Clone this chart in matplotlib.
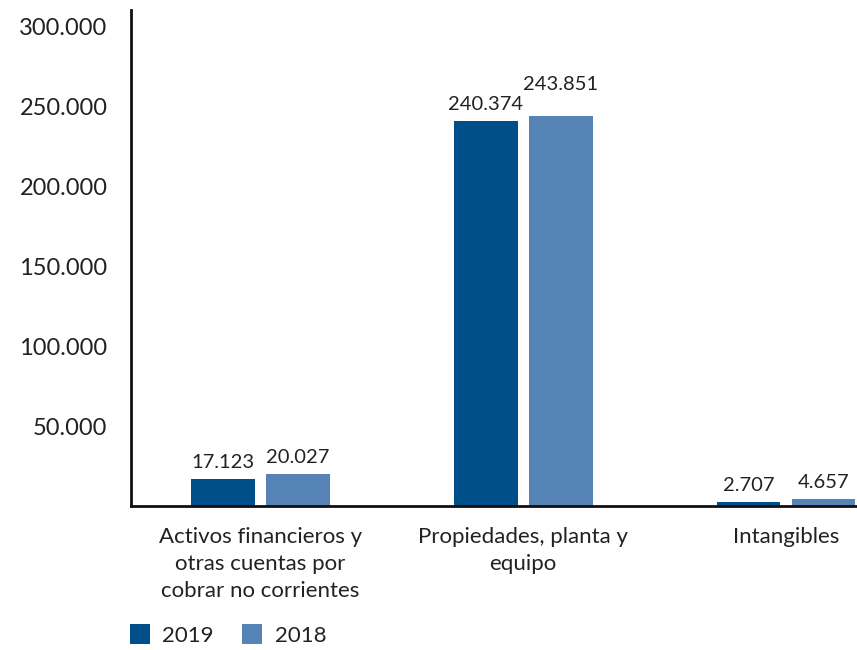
import matplotlib.pyplot as plt
import numpy as np

# data
categories = ['Activos financieros y\notras cuentas por\ncobrar no corrientes',
              'Propiedades, planta y\nequipo',
              'Intangibles']
v2019 = [17123, 240374, 2707]
v2018 = [20027, 243851, 4657]
labels2019 = ['17.123', '240.374', '2.707']
labels2018 = ['20.027', '243.851', '4.657']
yticks = [50000, 100000, 150000, 200000, 250000, 300000]
yticklabels = ['50.000', '100.000', '150.000', '200.000', '250.000', '300.000']

plt.rcParams['font.family'] = ['Lato', 'DejaVu Sans']
c19 = '#004f8a'
c18 = '#5583b5'
txt = '#222222'
# extra lift for the 2018 labels so the middle pair does not collide
lift18 = [0, 9000, 0]

fig = plt.figure(figsize=(8.57, 6.5), dpi=100)
ax = fig.add_axes([0.1529, 0.2215, 0.8471, 0.7631])

x = np.arange(len(categories))
w = 0.243
off = 0.1426
b1 = ax.bar(x - off, v2019, w, color=c19, label='2019')
b2 = ax.bar(x + off, v2018, w, color=c18, label='2018')

for rect, lab in zip(b1, labels2019):
    ax.text(rect.get_x() + rect.get_width() / 2, rect.get_height() + 5000, lab,
            ha='center', va='bottom', fontsize=14.5, color=txt)
for rect, lab, lf in zip(b2, labels2018, lift18):
    ax.text(rect.get_x() + rect.get_width() / 2, rect.get_height() + 5000 + lf, lab,
            ha='center', va='bottom', fontsize=14.5, color=txt)

ax.set_xlim(-0.492, 2.27)
ax.set_ylim(0, 310000)
ax.set_yticks(yticks)
ax.set_yticklabels(yticklabels, fontsize=17, color=txt)
ax.set_xticks(x)
ax.set_xticklabels(categories, fontsize=16, color=txt, linespacing=1.45)
ax.tick_params(axis='both', length=0)
ax.tick_params(axis='y', pad=17)
ax.tick_params(axis='x', pad=15)

ax.spines['top'].set_visible(False)
ax.spines['right'].set_visible(False)
ax.spines['left'].set_linewidth(2)
ax.spines['bottom'].set_linewidth(2)
ax.spines['left'].set_color('#111111')
ax.spines['bottom'].set_color('#111111')

fig.legend(handles=[b1, b2], labels=['2019', '2018'], loc='lower left',
           bbox_to_anchor=(0.128, -0.024), ncol=2, frameon=False, fontsize=16,
           handlelength=0.9, handleheight=1.0, handletextpad=0.55,
           columnspacing=1.3, labelcolor=txt)

fig.savefig('out.png', dpi=100)
